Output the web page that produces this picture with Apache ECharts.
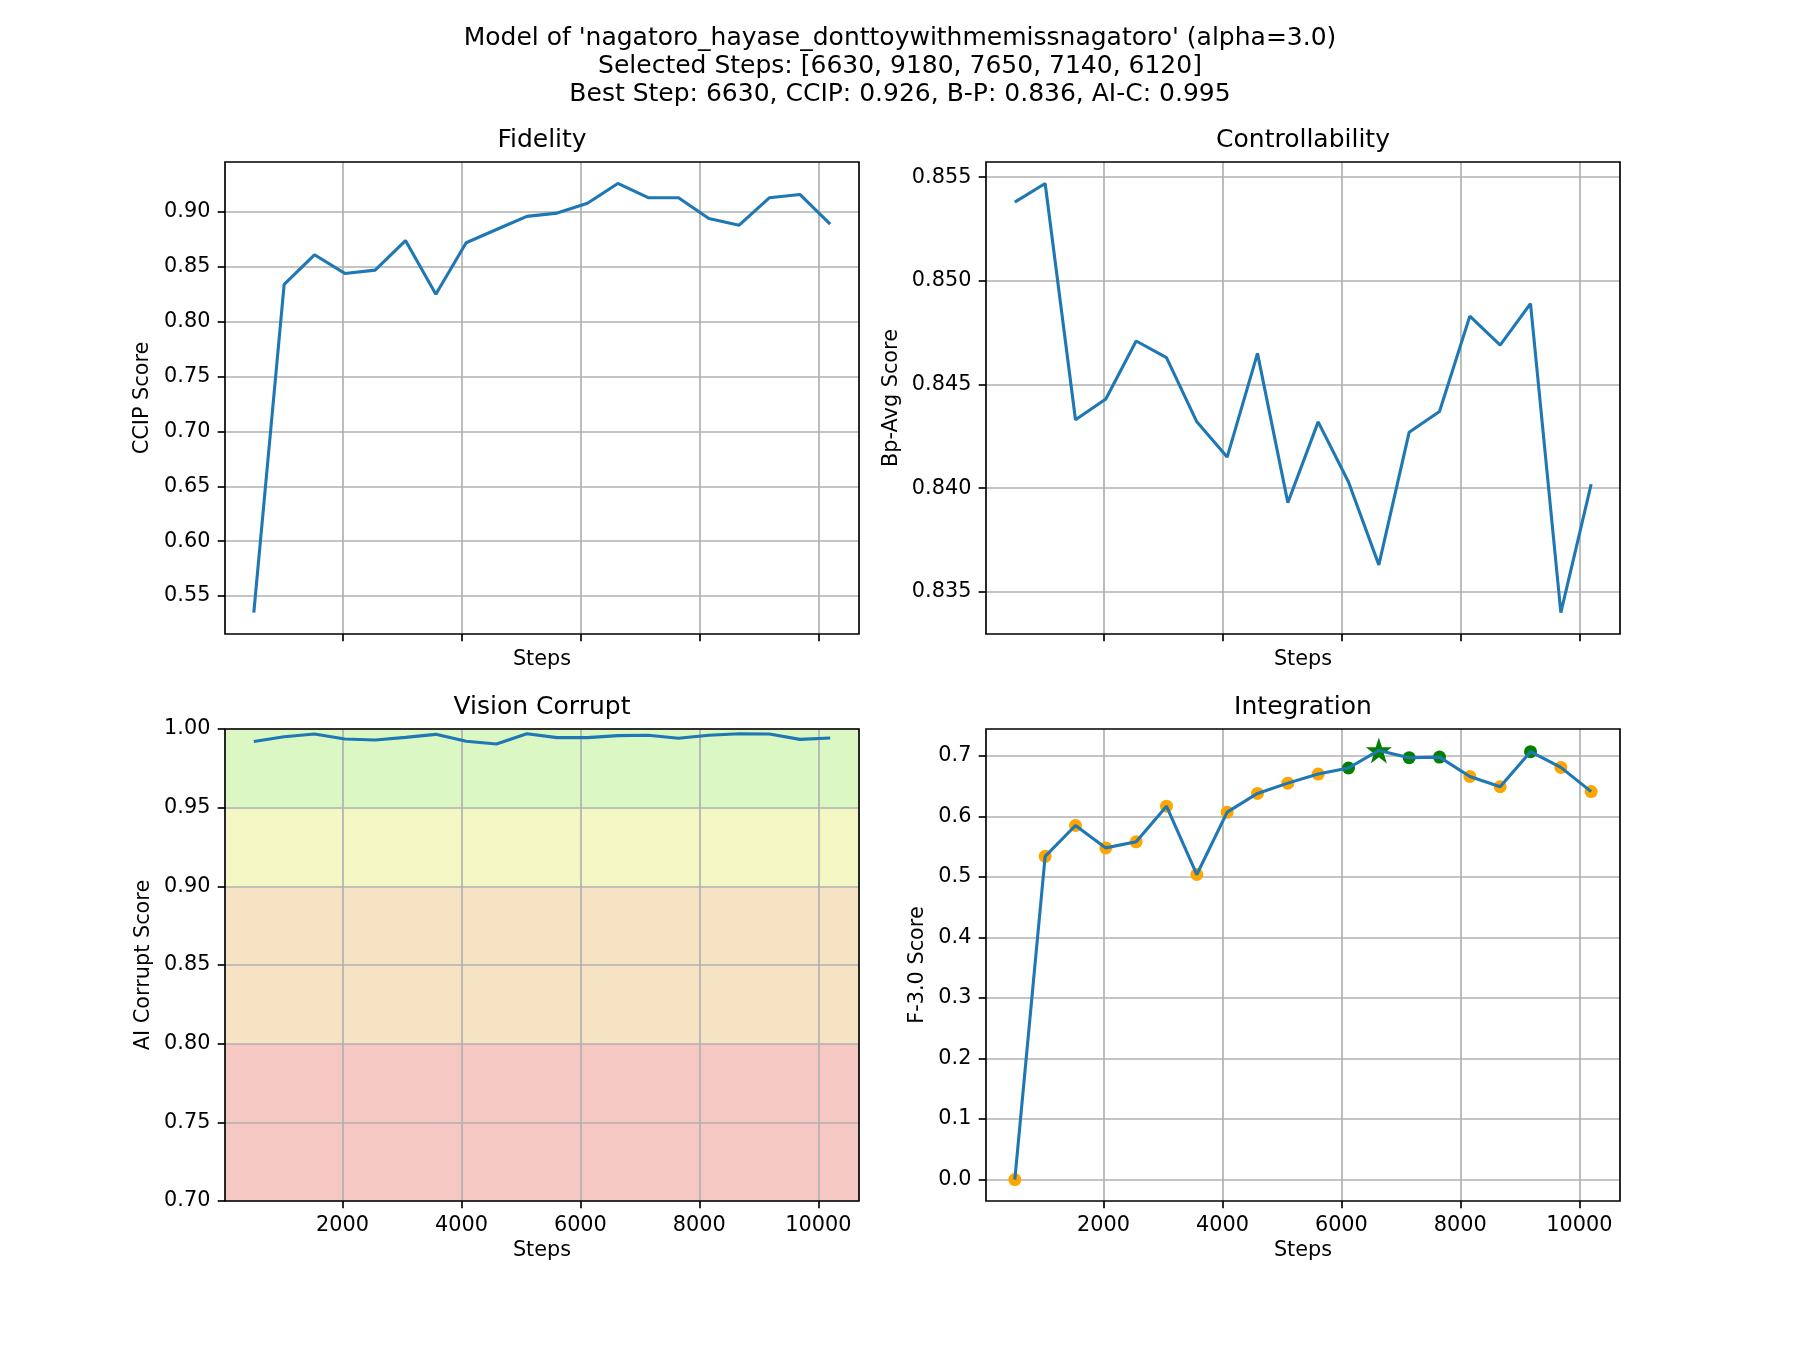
<!DOCTYPE html>
<html><head><meta charset="utf-8">
<script src="https://cdn.jsdelivr.net/npm/echarts/dist/echarts.min.js"></script>
<style>html,body{margin:0;padding:0;background:#fff}#c{width:1800px;height:1350px}</style>
</head><body><div id="c"></div>
<script>
// ---- data ----
const steps = [510, 1020, 1530, 2040, 2550, 3060, 3570, 4080, 4590, 5100, 5610, 6120, 6630, 7140, 7650, 8160, 8670, 9180, 9690, 10200];
const ccip = [0.535, 0.834, 0.861, 0.844, 0.847, 0.874, 0.825, 0.872, 0.884, 0.896, 0.899, 0.908, 0.926, 0.913, 0.913, 0.894, 0.888, 0.913, 0.916, 0.889];
const bpAvg = [0.8538, 0.8547, 0.8433, 0.8443, 0.8471, 0.8463, 0.8432, 0.8415, 0.8465, 0.8393, 0.8432, 0.8403, 0.8363, 0.8427, 0.8437, 0.8483, 0.8469, 0.8489, 0.8340, 0.8402];
const aiCorrupt = [0.9920, 0.9951, 0.9968, 0.9936, 0.9930, 0.9947, 0.9966, 0.9922, 0.9905, 0.9970, 0.9945, 0.9945, 0.9958, 0.9960, 0.9941, 0.9960, 0.9970, 0.9968, 0.9934, 0.9943];
const fScore = [0.000, 0.534, 0.585, 0.548, 0.558, 0.617, 0.504, 0.607, 0.638, 0.655, 0.670, 0.680, 0.709, 0.697, 0.698, 0.666, 0.649, 0.707, 0.681, 0.641];
const selectedSteps = [6630, 9180, 7650, 7140, 6120];
const bestStep = 6630;
const xTicks = [2000, 4000, 6000, 8000, 10000];
const ccipTicks = [0.55, 0.60, 0.65, 0.70, 0.75, 0.80, 0.85, 0.90];
const bpTicks = [0.835, 0.840, 0.845, 0.850, 0.855];
const aicTicks = [0.70, 0.75, 0.80, 0.85, 0.90, 0.95, 1.00];
const fTicks = [0.0, 0.1, 0.2, 0.3, 0.4, 0.5, 0.6, 0.7];
const aicBands = [[0.95, 1.00], [0.90, 0.95], [0.80, 0.90], [0.70, 0.80]];
const bandColors = ['#dbf8c4', '#f3f7c4', '#f6e3c4', '#f6c8c4'];

// ---- helpers ----
const FONT = 'DejaVu Sans';
const FS = 20.8;
function pad(arr) { const mn = Math.min(...arr), mx = Math.max(...arr), r = mx - mn; return [mn - 0.05 * r, mx + 0.05 * r]; }
const xr = pad(steps);
const grids = [
  {left: 225, top: 162, width: 634, height: 472},
  {left: 986, top: 162, width: 634, height: 472},
  {left: 225, top: 729, width: 634, height: 472},
  {left: 986, top: 729, width: 634, height: 472}
];
const tickStyle = {color: '#000', width: 1.67};
function xAx(gi, showLab, gap) {
  return {
    type: 'value', gridIndex: gi, min: xr[0], max: xr[1], z: 4,
    axisLine: {show: false, onZero: false},
    axisTick: {show: true, length: 7.3, lineStyle: tickStyle, customValues: xTicks},
    axisLabel: {show: showLab, customValues: xTicks, margin: 14.6, fontSize: FS, color: '#000', fontFamily: FONT, formatter: v => String(v)},
    splitLine: {show: true, lineStyle: {color: '#b0b0b0', width: 1.67}},
    name: 'Steps', nameLocation: 'middle', nameGap: gap,
    nameTextStyle: {fontSize: FS, color: '#000', fontFamily: FONT, lineHeight: 22}
  };
}
function yAx(gi, rng, ticks, dec, name, gap) {
  return {
    type: 'value', gridIndex: gi, min: rng[0], max: rng[1], z: 4,
    axisLine: {show: false, onZero: false},
    axisTick: {show: true, length: 7.3, lineStyle: tickStyle, customValues: ticks},
    axisLabel: {customValues: ticks, margin: 14.6, fontSize: FS, color: '#000', fontFamily: FONT, formatter: v => v.toFixed(dec)},
    splitLine: {show: true, lineStyle: {color: '#b0b0b0', width: 1.67}},
    name: name, nameLocation: 'middle', nameGap: gap,
    nameTextStyle: {fontSize: FS, color: '#000', fontFamily: FONT, lineHeight: 22}
  };
}
function lineSeries(i, vals) {
  return {
    type: 'line', xAxisIndex: i, yAxisIndex: i, z: 6,
    data: steps.map((s, k) => [s, vals[k]]),
    showSymbol: false, symbol: 'none',
    lineStyle: {color: '#1f77b4', width: 3.1}, itemStyle: {color: '#1f77b4'},
    animation: false, silent: true
  };
}
const starPath = 'path://M50,0 L61.8,35.3 L99,35.3 L68.8,57.1 L80.2,92.7 L50,70.9 L19.8,92.7 L31.2,57.1 L1,35.3 L38.2,35.3 Z';
const orangePts = [], greenPts = [], bestPts = [];
steps.forEach((s, k) => {
  const p = [s, fScore[k]];
  if (s === bestStep) bestPts.push(p);
  else if (selectedSteps.includes(s)) greenPts.push(p);
  else orangePts.push(p);
});

const fig = echarts.init(document.getElementById('c'), null, {renderer: 'canvas'});
const sub = (x, y, t) => ({type: 'text', x: x, y: y, style: {text: t, fontSize: 25, fontFamily: FONT, fill: '#000', align: 'center', verticalAlign: 'middle'}});
fig.setOption({
  animation: false,
  backgroundColor: '#fff',
  grid: grids.map(g => Object.assign({show: true, z: 5, borderColor: '#000', borderWidth: 1.67, backgroundColor: 'transparent', containLabel: false}, g)),
  xAxis: [xAx(0, false, 15), xAx(1, false, 15), xAx(2, true, 39), xAx(3, true, 39)],
  yAxis: [
    yAx(0, pad(ccip), ccipTicks, 2, 'CCIP Score', 71),
    yAx(1, pad(bpAvg), bpTicks, 3, 'Bp-Avg Score', 83),
    yAx(2, [0.70, 1.00], aicTicks, 2, 'AI Corrupt Score', 70),
    yAx(3, pad(fScore), fTicks, 1, 'F-3.0 Score', 57)
  ],
  graphic: [
    sub(900, 38, "Model of 'nagatoro_hayase_donttoywithmemissnagatoro' (alpha=3.0)"),
    sub(900, 66.5, 'Selected Steps: [' + selectedSteps.join(', ') + ']'),
    sub(900, 94.5, 'Best Step: 6630, CCIP: 0.926, B-P: 0.836, AI-C: 0.995'),
    sub(542, 140, 'Fidelity'),
    sub(1303, 140, 'Controllability'),
    sub(542, 707, 'Vision Corrupt'),
    sub(1303, 707, 'Integration')
  ],
  series: [
    {
      type: 'line', xAxisIndex: 2, yAxisIndex: 2, z: 1, data: [], silent: true,
      markArea: {silent: true, z: 1, data: aicBands.map((b, k) => [{yAxis: b[0], itemStyle: {color: bandColors[k], opacity: 1}}, {yAxis: b[1]}])}
    },
    lineSeries(0, ccip),
    lineSeries(1, bpAvg),
    lineSeries(2, aiCorrupt),
    {type: 'scatter', xAxisIndex: 3, yAxisIndex: 3, z: 5, data: orangePts, symbol: 'circle', symbolSize: 13, itemStyle: {color: '#ffa500', opacity: 1}, silent: true},
    {type: 'scatter', xAxisIndex: 3, yAxisIndex: 3, z: 5, data: greenPts, symbol: 'circle', symbolSize: 13, itemStyle: {color: '#008000', opacity: 1}, silent: true},
    {type: 'scatter', xAxisIndex: 3, yAxisIndex: 3, z: 5, data: bestPts, symbol: starPath, symbolSize: 26, itemStyle: {color: '#008000', opacity: 1}, silent: true},
    lineSeries(3, fScore)
  ]
});
</script>
</body></html>
